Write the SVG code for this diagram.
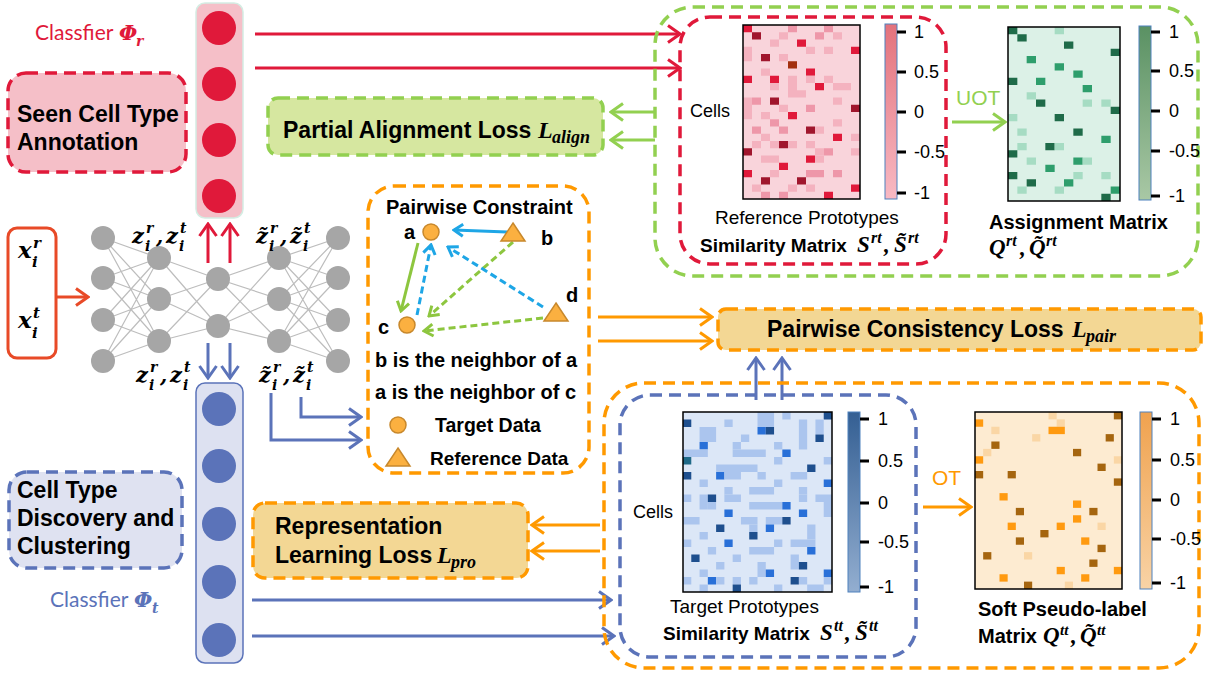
<svg xmlns="http://www.w3.org/2000/svg" width="1206" height="677" viewBox="0 0 1206 677">
<defs>
<style>
.b{font-family:"Liberation Sans",Arial,sans-serif;font-weight:bold;fill:#000}
.r{font-family:"Liberation Sans",Arial,sans-serif;fill:#000}
.m{font-family:"DejaVu Serif","Liberation Serif",serif;font-style:italic;font-weight:bold;fill:#000}
.mn{font-family:"Liberation Serif","DejaVu Serif",serif;font-style:italic;font-weight:bold;fill:#000}
.cl{font-family:Lato,"Open Sans",sans-serif;font-size:21px}
.nn{fill:#A6A6A6}
.ed{stroke:#BDBDBD;stroke-width:1.2;fill:none}
.dR{fill:none;stroke:#E0193A;stroke-width:3.5;stroke-dasharray:12 7}
.dG{fill:none;stroke:#92D050;stroke-width:3.5;stroke-dasharray:12 7}
.dO{fill:none;stroke:#FF9900;stroke-width:3.5;stroke-dasharray:12 7}
.dB{fill:none;stroke:#5B73B9;stroke-width:3.5;stroke-dasharray:12 7}
.aR{fill:none;stroke:#E0193A;stroke-width:3;marker-end:url(#mR)}
.aG{fill:none;stroke:#92D050;stroke-width:3;marker-end:url(#mG)}
.aO{fill:none;stroke:#FF9900;stroke-width:3;marker-end:url(#mO)}
.aB{fill:none;stroke:#5B73B9;stroke-width:3;marker-end:url(#mB)}
.pB{fill:none;stroke:#1EA6E6;stroke-width:3;marker-end:url(#pB)}
.pG{fill:none;stroke:#8DC63F;stroke-width:3;marker-end:url(#pG)}
.tk{stroke:#000;stroke-width:3}
.rl{fill:#F4B2BF}.rm{fill:#EE97A9}.rb{fill:#E0193A}.rd{fill:#A0162D}.rbr{fill:#A3300F}
.gl{fill:#A6DCC3}.gm{fill:#2E9E6C}.gd{fill:#1F6B49}
.bl{fill:#ABC5EE}.bb{fill:#2970D8}.bd{fill:#1E4F8E}.bt{fill:#1F6A88}
.ol{fill:#FAD6A5}.oo{fill:#FF9A10}.obr{fill:#A5650F}
.pt{fill:#FBB040;stroke:#C8882C;stroke-width:1.5}
</style>
<marker id="mR" viewBox="-14 -10 16 20" markerWidth="16" markerHeight="20" refX="0" refY="0" orient="auto" markerUnits="userSpaceOnUse"><path d="M-12,-8.5L0,0L-12,8.5" fill="none" stroke="#E0193A" stroke-width="3"/></marker>
<marker id="mG" viewBox="-14 -10 16 20" markerWidth="16" markerHeight="20" refX="0" refY="0" orient="auto" markerUnits="userSpaceOnUse"><path d="M-12,-8.5L0,0L-12,8.5" fill="none" stroke="#92D050" stroke-width="3"/></marker>
<marker id="mO" viewBox="-14 -10 16 20" markerWidth="16" markerHeight="20" refX="0" refY="0" orient="auto" markerUnits="userSpaceOnUse"><path d="M-12,-8.5L0,0L-12,8.5" fill="none" stroke="#FF9900" stroke-width="3"/></marker>
<marker id="mB" viewBox="-14 -10 16 20" markerWidth="16" markerHeight="20" refX="0" refY="0" orient="auto" markerUnits="userSpaceOnUse"><path d="M-12,-8.5L0,0L-12,8.5" fill="none" stroke="#5B73B9" stroke-width="3"/></marker>
<marker id="mE" viewBox="-14 -10 16 20" markerWidth="16" markerHeight="20" refX="0" refY="0" orient="auto" markerUnits="userSpaceOnUse"><path d="M-12,-8.5L0,0L-12,8.5" fill="none" stroke="#E84A27" stroke-width="3"/></marker>
<marker id="pB" viewBox="-11 -8 13 16" markerWidth="13" markerHeight="16" refX="0" refY="0" orient="auto" markerUnits="userSpaceOnUse"><path d="M-9,-6L0,0L-9,6" fill="none" stroke="#1EA6E6" stroke-width="3"/></marker>
<marker id="pG" viewBox="-11 -8 13 16" markerWidth="13" markerHeight="16" refX="0" refY="0" orient="auto" markerUnits="userSpaceOnUse"><path d="M-9,-6L0,0L-9,6" fill="none" stroke="#8DC63F" stroke-width="3"/></marker>
<linearGradient id="gR" x1="0" y1="0" x2="0" y2="1"><stop offset="0" stop-color="#E3727C"/><stop offset="1" stop-color="#F8B9C3"/></linearGradient>
<linearGradient id="gG" x1="0" y1="0" x2="0" y2="1"><stop offset="0" stop-color="#5A9163"/><stop offset="1" stop-color="#A9C8A5"/></linearGradient>
<linearGradient id="gB" x1="0" y1="0" x2="0" y2="1"><stop offset="0" stop-color="#345F93"/><stop offset="1" stop-color="#93AED0"/></linearGradient>
<linearGradient id="gO" x1="0" y1="0" x2="0" y2="1"><stop offset="0" stop-color="#F0A24E"/><stop offset="1" stop-color="#F8D3A6"/></linearGradient>
</defs>
<rect width="1206" height="677" fill="#fff"/>

<!-- Connectors -->
<g id="connectors">
<path class="aR" d="M255,34H680"/>
<path class="aR" d="M255,68H680"/>
<path class="aG" d="M655,112H611"/>
<path class="aG" d="M655,140H611"/>
<path d="M56,297H88" fill="none" stroke="#E84A27" stroke-width="3" marker-end="url(#mE)"/>
<path class="aR" d="M208,263V224"/>
<path class="aR" d="M230,263V224"/>
<path class="aB" d="M208,343V378"/>
<path class="aB" d="M230,343V378"/>
<path class="aB" d="M271,393V440H361"/>
<path class="aB" d="M301,397V417H361"/>
<path class="aO" d="M598,317H712"/>
<path class="aO" d="M598,341H712"/>
<path class="aB" d="M756,400V358"/>
<path class="aB" d="M782,400V358"/>
<path class="aO" d="M600,525H532"/>
<path class="aO" d="M600,551H532"/>
<path class="aB" d="M252,600H611"/>
<path class="aB" d="M252,636H614"/>
<path class="aG" d="M952,122H1005"/>
<path class="aO" d="M923,507H971"/>
</g>

<!-- Seen cell type box -->
<g id="seen">
<rect x="8" y="73" width="178" height="99" rx="18" fill="#F5BFC8"/>
<rect x="8" y="73" width="178" height="99" rx="18" class="dR"/>
<text class="b" font-size="23" x="17" y="122">Seen Cell Type</text>
<text class="b" font-size="23" x="17" y="150">Annotation</text>
</g>

<g id="classifier-r-label">
<text class="cl" x="35" y="40" fill="#E0193A">Classfier</text>
<text class="m" font-size="21" x="119" y="40" style="fill:#E0193A">Φ</text>
<text class="m" font-size="14" x="136" y="46" style="fill:#E0193A">r</text>
</g>

<g id="classifier-r">
<rect x="196" y="3" width="47" height="215" rx="9" fill="#F5BFC8" stroke="#D4EDE3" stroke-width="1.5"/>
<circle cx="219" cy="28" r="17" fill="#E0193A"/>
<circle cx="219" cy="84" r="17" fill="#E0193A"/>
<circle cx="219" cy="140" r="17" fill="#E0193A"/>
<circle cx="219" cy="196" r="17" fill="#E0193A"/>
</g>

<g id="input">
<rect x="8" y="228" width="48" height="130" rx="9" fill="#fff" stroke="#E84A27" stroke-width="3"/>
<text class="m" font-size="23" x="18" y="258">x</text>
<text class="m" font-size="15" x="33" y="248">r</text>
<text class="m" font-size="15" x="32" y="267">i</text>
<text class="m" font-size="23" x="18" y="328">x</text>
<text class="m" font-size="15" x="33" y="318">t</text>
<text class="m" font-size="15" x="32" y="338">i</text>
</g>

<g id="network">
<path class="ed" d="M103,238L159,258M103,238L159,299M103,238L159,341M103,278L159,258M103,278L159,299M103,278L159,341M103,320L159,258M103,320L159,299M103,320L159,341M103,361L159,258M103,361L159,299M103,361L159,341
M159,258L218,279M159,258L218,326M159,299L218,279M159,299L218,326M159,341L218,279M159,341L218,326
M218,279L279,258M218,279L279,299M218,279L279,341M218,326L279,258M218,326L279,299M218,326L279,341
M279,258L338,238M279,258L338,278M279,258L338,320M279,258L338,361M279,299L338,238M279,299L338,278M279,299L338,320M279,299L338,361M279,341L338,238M279,341L338,278M279,341L338,320M279,341L338,361"/>
<g class="nn">
<circle cx="103" cy="238" r="12"/><circle cx="103" cy="278" r="12"/><circle cx="103" cy="320" r="12"/><circle cx="103" cy="361" r="12"/>
<circle cx="159" cy="258" r="12"/><circle cx="159" cy="299" r="12"/><circle cx="159" cy="341" r="12"/>
<circle cx="218" cy="279" r="12"/><circle cx="218" cy="326" r="12"/>
<circle cx="279" cy="258" r="12"/><circle cx="279" cy="299" r="12"/><circle cx="279" cy="341" r="12"/>
<circle cx="338" cy="238" r="12"/><circle cx="338" cy="278" r="12"/><circle cx="338" cy="320" r="12"/><circle cx="338" cy="361" r="12"/>
</g>
<g font-size="21">
<text class="m" x="132" y="243">z</text><text class="m" font-size="14" x="146" y="233">r</text><text class="m" font-size="14" x="145" y="251">i</text>
<text class="m" x="156" y="243">,</text>
<text class="m" x="166" y="243">z</text><text class="m" font-size="14" x="180" y="233">t</text><text class="m" font-size="14" x="179" y="251">i</text>
<text class="m" x="136" y="382">z</text><text class="m" font-size="14" x="150" y="372">r</text><text class="m" font-size="14" x="149" y="390">i</text>
<text class="m" x="160" y="382">,</text>
<text class="m" x="170" y="382">z</text><text class="m" font-size="14" x="184" y="372">t</text><text class="m" font-size="14" x="183" y="390">i</text>
<text class="m" x="256" y="243">z̃</text><text class="m" font-size="14" x="270" y="233">r</text><text class="m" font-size="14" x="269" y="251">i</text>
<text class="m" x="280" y="243">,</text>
<text class="m" x="290" y="243">z̃</text><text class="m" font-size="14" x="304" y="233">t</text><text class="m" font-size="14" x="303" y="251">i</text>
<text class="m" x="259" y="382">z̃</text><text class="m" font-size="14" x="273" y="372">r</text><text class="m" font-size="14" x="272" y="390">i</text>
<text class="m" x="283" y="382">,</text>
<text class="m" x="293" y="382">z̃</text><text class="m" font-size="14" x="307" y="372">t</text><text class="m" font-size="14" x="306" y="390">i</text>
</g>
</g>

<g id="classifier-t">
<rect x="196" y="383" width="47" height="280" rx="9" fill="#DDE1F1" stroke="#5B73B9" stroke-width="1.5"/>
<circle cx="219" cy="409" r="17" fill="#5B73B9"/>
<circle cx="219" cy="466" r="17" fill="#5B73B9"/>
<circle cx="219" cy="524" r="17" fill="#5B73B9"/>
<circle cx="219" cy="582" r="17" fill="#5B73B9"/>
<circle cx="219" cy="640" r="17" fill="#5B73B9"/>
</g>

<g id="classifier-t-label">
<text class="cl" x="50" y="607" fill="#5B73B9">Classfier</text>
<text class="m" font-size="21" x="134" y="607" style="fill:#5B73B9">Φ</text>
<text class="m" font-size="14" x="152" y="613" style="fill:#5B73B9">t</text>
</g>

<g id="discovery">
<rect x="9" y="472" width="173" height="96" rx="18" fill="#DFE2F1"/>
<rect x="9" y="472" width="173" height="96" rx="18" class="dB"/>
<text class="b" font-size="23" x="17" y="498">Cell Type</text>
<text class="b" font-size="23" x="17" y="526">Discovery and</text>
<text class="b" font-size="23" x="17" y="554">Clustering</text>
</g>

<g id="partial-alignment">
<rect x="268" y="98" width="335" height="57" rx="10" fill="#D6E7A0"/>
<rect x="268" y="98" width="335" height="57" rx="10" class="dG"/>
<text class="b" font-size="23" x="283" y="138">Partial Alignment Loss</text>
<text class="mn" font-size="24" x="538" y="138">L</text>
<text class="mn" font-size="18" x="552" y="143">align</text>
</g>

<g id="representation">
<rect x="253" y="503" width="275" height="75" rx="12" fill="#F3D794"/>
<rect x="253" y="503" width="275" height="75" rx="12" class="dO"/>
<text class="b" font-size="23" x="275" y="534">Representation</text>
<text class="b" font-size="23" x="275" y="563">Learning Loss</text>
<text class="mn" font-size="24" x="437" y="563">L</text>
<text class="mn" font-size="18" x="451" y="568">pro</text>
</g>

<g id="pairwise-consistency">
<rect x="718" y="309" width="483" height="41" rx="8" fill="#F3D794"/>
<rect x="718" y="309" width="483" height="41" rx="8" class="dO"/>
<text class="b" font-size="23" x="767" y="337">Pairwise Consistency Loss</text>
<text class="mn" font-size="24" x="1072" y="337">L</text>
<text class="mn" font-size="18" x="1086" y="342">pair</text>
</g>

<g id="pairwise-constraint">
<rect x="368" y="186" width="221" height="287" rx="26" class="dO"/>
<text class="b" font-size="20" x="386" y="214">Pairwise Constraint</text>
<path class="pB" d="M507,232L454,230"/>
<path class="pG" d="M418,243L401,311"/>
<path class="pB" d="M417,315L431,245" stroke-dasharray="7 4"/>
<path class="pG" d="M513,242L429,316" stroke-dasharray="7 4"/>
<path class="pB" d="M543,307L448,247" stroke-dasharray="7 4"/>
<path class="pG" d="M543,318L424,331" stroke-dasharray="7 4"/>
<circle class="pt" cx="431" cy="232" r="8"/>
<circle class="pt" cx="407" cy="325" r="8"/>
<polygon class="pt" points="513,223 525,241 501,241"/>
<polygon class="pt" points="556,303 568,321 544,321"/>
<text class="b" font-size="20" x="404" y="239">a</text>
<text class="b" font-size="20" x="541" y="245">b</text>
<text class="b" font-size="20" x="566" y="302">d</text>
<text class="b" font-size="20" x="378" y="334">c</text>
<text class="b" font-size="20" x="375" y="367">b is the neighbor of a</text>
<text class="b" font-size="20" x="375" y="399">a is the neighbor of c</text>
<circle class="pt" cx="398" cy="425" r="8"/>
<text class="b" font-size="19.5" x="435" y="432">Target Data</text>
<polygon class="pt" points="398,448 410,466 386,466"/>
<text class="b" font-size="19" x="430" y="465">Reference Data</text>
</g>

<g id="alignment-panel">
<rect x="655" y="7" width="543" height="269" rx="38" class="dG"/>
<text class="r" font-size="21" x="956" y="105" style="fill:#92D050">UOT</text>
</g>

<g id="similarity-rt">
<rect x="680" y="17" width="266" height="247" rx="30" class="dR"/>
<text class="r" font-size="18" x="690" y="117">Cells</text>
<g transform="translate(743,25) scale(9,7.25)">
<rect width="13" height="24" fill="#F9D4DB"/>
<rect x="0" y="0" width="1" height="1" class="rb"/><rect x="5" y="0" width="1" height="1" class="rm"/><rect x="9" y="0" width="1" height="1" class="rm"/>
<rect x="1" y="1" width="1" height="1" class="rd"/><rect x="4" y="1" width="1" height="1" class="rl"/><rect x="8" y="1" width="1" height="1" class="rm"/><rect x="10" y="1" width="1" height="1" class="rl"/>
<rect x="3" y="2" width="1" height="1" class="rl"/><rect x="6" y="2" width="1" height="1" class="rb"/>
<rect x="0" y="3" width="1" height="2" class="rl"/><rect x="7" y="3" width="1" height="1" class="rl"/><rect x="9" y="3" width="1" height="1" class="rl"/><rect x="12" y="3" width="1" height="1" class="rb"/>
<rect x="2" y="4" width="1" height="1" class="rd"/><rect x="4" y="4" width="1" height="1" class="rl"/>
<rect x="5" y="5" width="1" height="1" class="rbr"/>
<rect x="2" y="6" width="1" height="1" class="rl"/><rect x="7" y="6" width="1" height="1" class="rb"/>
<rect x="0" y="7" width="1" height="1" class="rb"/><rect x="3" y="7" width="1" height="1" class="rb"/><rect x="5" y="7" width="1" height="1" class="rl"/><rect x="7" y="7" width="1" height="1" class="rl"/><rect x="9" y="7" width="1" height="1" class="rl"/>
<rect x="3" y="8" width="1" height="1" class="rl"/><rect x="5" y="8" width="1" height="2" class="rl"/><rect x="8" y="8" width="1" height="1" class="rb"/><rect x="10" y="8" width="2" height="1" class="rl"/>
<rect x="6" y="9" width="1" height="1" class="rl"/>
<rect x="0" y="10" width="1" height="3" class="rl"/><rect x="1" y="10" width="1" height="1" class="rm"/><rect x="3" y="10" width="1" height="1" class="rd"/><rect x="10" y="10" width="1" height="1" class="rl"/>
<rect x="4" y="11" width="1" height="1" class="rl"/><rect x="7" y="11" width="1" height="1" class="rm"/><rect x="12" y="11" width="1" height="1" class="rd"/>
<rect x="2" y="12" width="1" height="1" class="rl"/><rect x="5" y="12" width="1" height="1" class="rb"/>
<rect x="3" y="13" width="1" height="1" class="rm"/><rect x="10" y="13" width="1" height="1" class="rl"/>
<rect x="1" y="14" width="1" height="1" class="rm"/><rect x="4" y="14" width="1" height="1" class="rm"/><rect x="7" y="14" width="1" height="1" class="rd"/><rect x="8" y="14" width="1" height="1" class="rl"/>
<rect x="2" y="15" width="1" height="1" class="rl"/><rect x="10" y="15" width="1" height="1" class="rb"/><rect x="12" y="15" width="1" height="1" class="rl"/>
<rect x="1" y="16" width="1" height="1" class="rl"/><rect x="3" y="16" width="1" height="1" class="rl"/><rect x="4" y="16" width="1" height="1" class="rd"/><rect x="5" y="16" width="1" height="1" class="rl"/><rect x="7" y="16" width="1" height="1" class="rl"/>
<rect x="0" y="17" width="1" height="1" class="rd"/><rect x="8" y="17" width="1" height="1" class="rl"/><rect x="9" y="17" width="1" height="1" class="rm"/><rect x="12" y="17" width="1" height="1" class="rl"/>
<rect x="2" y="18" width="2" height="1" class="rl"/><rect x="7" y="18" width="1" height="1" class="rb"/><rect x="8" y="18" width="1" height="1" class="rl"/>
<rect x="4" y="19" width="1" height="1" class="rb"/>
<rect x="0" y="20" width="1" height="1" class="rb"/><rect x="3" y="20" width="1" height="1" class="rl"/><rect x="7" y="20" width="2" height="1" class="rm"/><rect x="10" y="20" width="1" height="1" class="rm"/>
<rect x="2" y="21" width="1" height="1" class="rd"/><rect x="6" y="21" width="1" height="1" class="rd"/>
<rect x="1" y="22" width="1" height="1" class="rl"/><rect x="5" y="22" width="1" height="1" class="rl"/><rect x="7" y="22" width="1" height="1" class="rl"/><rect x="12" y="22" width="1" height="1" class="rb"/>
<rect x="2" y="23" width="1" height="1" class="rm"/><rect x="4" y="23" width="1" height="1" class="rm"/><rect x="9" y="23" width="1" height="1" class="rb"/>
</g>
<rect x="743" y="25" width="117" height="174" fill="none" stroke="#000" stroke-width="1.5"/>
<rect x="885" y="24" width="12" height="175" fill="url(#gR)" stroke="#4F81BD" stroke-width="1"/>
<path class="tk" d="M897,32h9M897,72h9M897,112h9M897,152h9M897,193h9"/>
<g class="r" font-size="18">
<text x="914" y="38">1</text><text x="914" y="78">0.5</text><text x="914" y="118">0</text><text x="914" y="158">-0.5</text><text x="914" y="199">-1</text>
</g>
<text class="r" font-size="19" x="715" y="224">Reference Prototypes</text>
<text class="b" font-size="19" x="700" y="252">Similarity Matrix</text>
<text class="mn" font-size="23" x="857" y="252">S</text>
<text class="mn" font-size="16" x="871" y="243">rt</text>
<text class="mn" font-size="23" x="884" y="252">,</text>
<text class="mn" font-size="23" x="894" y="252">S̃</text>
<text class="mn" font-size="16" x="908" y="243">rt</text>
</g>

<g id="assignment-rt">
<g transform="translate(1008,27) scale(9.333,7.25)">
<rect width="12" height="24" fill="#DCF1E7"/>
<rect x="0" y="0" width="1" height="1" class="gd"/><rect x="5" y="0" width="1" height="1" class="gl"/>
<rect x="1" y="1" width="1" height="1" class="gd"/>
<rect x="6" y="2" width="1" height="1" class="gd"/>
<rect x="11" y="3" width="1" height="1" class="gd"/>
<rect x="2" y="4" width="1" height="1" class="gm"/>
<rect x="5" y="5" width="1" height="1" class="gm"/>
<rect x="7" y="6" width="1" height="1" class="gm"/>
<rect x="0" y="7" width="1" height="1" class="gd"/><rect x="3" y="7" width="1" height="1" class="gm"/>
<rect x="8" y="8" width="1" height="1" class="gm"/>
<rect x="2" y="9" width="1" height="1" class="gl"/>
<rect x="3" y="10" width="1" height="1" class="gd"/><rect x="8" y="10" width="1" height="1" class="gl"/><rect x="10" y="10" width="1" height="1" class="gl"/>
<rect x="11" y="11" width="1" height="1" class="gd"/>
<rect x="0" y="12" width="1" height="1" class="gl"/><rect x="5" y="12" width="1" height="1" class="gd"/>
<rect x="1" y="14" width="1" height="1" class="gl"/><rect x="7" y="14" width="1" height="1" class="gd"/>
<rect x="10" y="15" width="1" height="1" class="gm"/>
<rect x="1" y="16" width="1" height="1" class="gl"/><rect x="4" y="16" width="1" height="1" class="gd"/><rect x="5" y="16" width="1" height="1" class="gl"/>
<rect x="0" y="17" width="1" height="1" class="gd"/>
<rect x="2" y="18" width="1" height="1" class="gl"/><rect x="7" y="18" width="1" height="1" class="gm"/><rect x="8" y="18" width="1" height="1" class="gl"/>
<rect x="4" y="19" width="1" height="1" class="gm"/>
<rect x="0" y="20" width="1" height="1" class="gd"/><rect x="7" y="20" width="1" height="1" class="gl"/><rect x="10" y="20" width="1" height="1" class="gl"/>
<rect x="2" y="21" width="1" height="1" class="gd"/><rect x="6" y="21" width="1" height="1" class="gm"/>
<rect x="1" y="22" width="1" height="1" class="gl"/><rect x="5" y="22" width="1" height="1" class="gl"/><rect x="11" y="22" width="1" height="1" class="gm"/>
<rect x="10" y="23" width="1" height="1" class="gd"/>
</g>
<rect x="1008" y="27" width="112" height="174" fill="none" stroke="#000" stroke-width="1.5"/>
<rect x="1139" y="26" width="12" height="174" fill="url(#gG)" stroke="#4F81BD" stroke-width="1"/>
<path class="tk" d="M1151,32h9M1151,71h9M1151,111h9M1151,151h9M1151,196h9"/>
<g class="r" font-size="18">
<text x="1169" y="38">1</text><text x="1169" y="77">0.5</text><text x="1169" y="117">0</text><text x="1169" y="157">-0.5</text><text x="1169" y="202">-1</text>
</g>
<text class="b" font-size="20" x="989" y="229">Assignment Matrix</text>
<text class="mn" font-size="23" x="989" y="255">Q</text>
<text class="mn" font-size="16" x="1006" y="246">rt</text>
<text class="mn" font-size="23" x="1020" y="255">,</text>
<text class="mn" font-size="23" x="1029" y="255">Q̃</text>
<text class="mn" font-size="16" x="1046" y="246">rt</text>
</g>

<g id="pseudo-panel">
<rect x="604" y="383" width="595" height="285" rx="40" class="dO"/>
<text class="r" font-size="21" x="932" y="485" style="fill:#FF9900">OT</text>
</g>

<g id="similarity-tt">
<rect x="620" y="395" width="296" height="262" rx="30" class="dB"/>
<text class="r" font-size="18" x="633" y="518">Cells</text>
<g transform="translate(683,412) scale(8.278,7.5)">
<rect width="18" height="24" fill="#DCE7F7"/>
<rect x="9" y="0" width="2" height="2" class="bl"/><rect x="12" y="0" width="1" height="1" class="bl"/><rect x="17" y="0" width="1" height="1" class="bd"/>
<rect x="0" y="1" width="1" height="1" class="bd"/><rect x="5" y="1" width="1" height="1" class="bl"/><rect x="14" y="1" width="1" height="3" class="bl"/><rect x="16" y="1" width="1" height="2" class="bl"/>
<rect x="2" y="2" width="2" height="2" class="bl"/><rect x="9" y="2" width="1" height="1" class="bb"/><rect x="10" y="2" width="1" height="1" class="bd"/>
<rect x="7" y="3" width="1" height="1" class="bl"/><rect x="16" y="3" width="1" height="1" class="bd"/>
<rect x="2" y="4" width="1" height="1" class="bb"/><rect x="6" y="4" width="1" height="1" class="bl"/><rect x="11" y="4" width="1" height="1" class="bl"/><rect x="14" y="4" width="1" height="1" class="bl"/>
<rect x="0" y="5" width="3" height="1" class="bl"/><rect x="6" y="5" width="4" height="1" class="bl"/><rect x="12" y="5" width="1" height="1" class="bb"/>
<rect x="0" y="6" width="1" height="1" class="bt"/><rect x="11" y="6" width="1" height="1" class="bl"/><rect x="17" y="6" width="1" height="1" class="bl"/>
<rect x="4" y="7" width="5" height="1" class="bl"/><rect x="15" y="7" width="1" height="1" class="bd"/>
<rect x="0" y="8" width="1" height="1" class="bd"/><rect x="4" y="8" width="1" height="1" class="bb"/><rect x="5" y="8" width="2" height="1" class="bl"/><rect x="9" y="8" width="1" height="1" class="bl"/><rect x="13" y="8" width="2" height="1" class="bl"/>
<rect x="2" y="9" width="1" height="1" class="bl"/><rect x="11" y="9" width="1" height="1" class="bl"/><rect x="17" y="9" width="1" height="1" class="bb"/>
<rect x="5" y="10" width="1" height="1" class="bl"/><rect x="8" y="10" width="3" height="1" class="bl"/><rect x="14" y="10" width="1" height="1" class="bl"/>
<rect x="0" y="11" width="1" height="1" class="bl"/><rect x="2" y="11" width="1" height="2" class="bl"/><rect x="3" y="11" width="1" height="1" class="bd"/><rect x="5" y="11" width="2" height="1" class="bl"/><rect x="14" y="11" width="1" height="1" class="bl"/><rect x="16" y="11" width="2" height="1" class="bl"/>
<rect x="3" y="12" width="1" height="1" class="bl"/><rect x="8" y="12" width="4" height="1" class="bl"/><rect x="12" y="12" width="1" height="1" class="bb"/><rect x="17" y="12" width="1" height="2" class="bl"/>
<rect x="5" y="13" width="1" height="1" class="bb"/><rect x="14" y="13" width="1" height="1" class="bb"/>
<rect x="0" y="14" width="2" height="1" class="bl"/><rect x="7" y="14" width="2" height="1" class="bl"/><rect x="10" y="14" width="2" height="1" class="bl"/><rect x="12" y="14" width="1" height="1" class="bd"/>
<rect x="4" y="15" width="1" height="1" class="bd"/><rect x="8" y="15" width="1" height="1" class="bl"/><rect x="10" y="15" width="1" height="1" class="bb"/><rect x="15" y="15" width="1" height="2" class="bl"/>
<rect x="2" y="16" width="1" height="1" class="bl"/><rect x="8" y="16" width="1" height="1" class="bd"/>
<rect x="0" y="17" width="1" height="1" class="bl"/><rect x="5" y="17" width="1" height="1" class="bb"/><rect x="11" y="17" width="1" height="1" class="bl"/><rect x="13" y="17" width="3" height="1" class="bl"/>
<rect x="3" y="18" width="1" height="1" class="bl"/><rect x="8" y="18" width="3" height="1" class="bl"/><rect x="15" y="18" width="1" height="1" class="bb"/>
<rect x="1" y="19" width="1" height="1" class="bd"/><rect x="6" y="19" width="1" height="1" class="bl"/><rect x="13" y="19" width="1" height="2" class="bl"/>
<rect x="4" y="20" width="1" height="1" class="bl"/><rect x="9" y="20" width="1" height="2" class="bl"/><rect x="14" y="20" width="1" height="1" class="bd"/>
<rect x="2" y="21" width="1" height="1" class="bl"/><rect x="10" y="21" width="1" height="1" class="bb"/><rect x="17" y="21" width="1" height="1" class="bb"/>
<rect x="0" y="22" width="1" height="1" class="bl"/><rect x="3" y="22" width="1" height="1" class="bb"/><rect x="4" y="22" width="1" height="1" class="bl"/><rect x="6" y="22" width="1" height="1" class="bl"/><rect x="8" y="22" width="1" height="1" class="bl"/><rect x="13" y="22" width="1" height="1" class="bd"/><rect x="14" y="22" width="1" height="1" class="bl"/><rect x="17" y="22" width="1" height="1" class="bl"/>
<rect x="2" y="23" width="1" height="1" class="bl"/><rect x="6" y="23" width="1" height="1" class="bd"/><rect x="11" y="23" width="1" height="1" class="bl"/><rect x="15" y="23" width="2" height="1" class="bl"/>
</g>
<rect x="683" y="412" width="149" height="180" fill="none" stroke="#000" stroke-width="1.5"/>
<rect x="848" y="412" width="12" height="180" fill="url(#gB)" stroke="#4F81BD" stroke-width="1"/>
<path class="tk" d="M860,419h9M860,461h9M860,503h9M860,542h9M860,587h9"/>
<g class="r" font-size="18">
<text x="878" y="425">1</text><text x="878" y="467">0.5</text><text x="878" y="509">0</text><text x="878" y="548">-0.5</text><text x="878" y="593">-1</text>
</g>
<text class="r" font-size="19" x="670" y="613">Target Prototypes</text>
<text class="b" font-size="19" x="663" y="640">Similarity Matrix</text>
<text class="mn" font-size="23" x="820" y="640">S</text>
<text class="mn" font-size="16" x="834" y="631">tt</text>
<text class="mn" font-size="23" x="845" y="640">,</text>
<text class="mn" font-size="23" x="855" y="640">S̃</text>
<text class="mn" font-size="16" x="869" y="631">tt</text>
</g>

<g id="pseudo-label">
<g transform="translate(975,412) scale(8.167,7.375)">
<rect width="18" height="24" fill="#FDEBD1"/>
<rect x="9" y="0" width="1" height="1" class="ol"/><rect x="17" y="0" width="1" height="1" class="obr"/>
<rect x="0" y="1" width="1" height="1" class="oo"/><rect x="10" y="1" width="1" height="1" class="ol"/>
<rect x="2" y="2" width="1" height="1" class="ol"/><rect x="9" y="2" width="2" height="1" class="oo"/>
<rect x="7" y="3" width="1" height="1" class="ol"/><rect x="16" y="3" width="1" height="1" class="obr"/>
<rect x="2" y="4" width="1" height="1" class="obr"/>
<rect x="1" y="5" width="1" height="1" class="ol"/><rect x="12" y="5" width="1" height="1" class="obr"/>
<rect x="0" y="6" width="1" height="1" class="oo"/><rect x="17" y="6" width="1" height="1" class="ol"/>
<rect x="15" y="7" width="1" height="1" class="obr"/>
<rect x="0" y="8" width="1" height="1" class="obr"/><rect x="4" y="8" width="1" height="1" class="obr"/>
<rect x="17" y="9" width="1" height="1" class="obr"/>
<rect x="3" y="11" width="1" height="1" class="oo"/>
<rect x="12" y="12" width="1" height="1" class="oo"/>
<rect x="5" y="13" width="1" height="1" class="obr"/><rect x="14" y="13" width="1" height="1" class="obr"/>
<rect x="12" y="14" width="1" height="1" class="oo"/>
<rect x="4" y="15" width="1" height="1" class="oo"/><rect x="10" y="15" width="1" height="1" class="oo"/><rect x="15" y="15" width="1" height="1" class="ol"/>
<rect x="8" y="16" width="1" height="1" class="obr"/>
<rect x="5" y="17" width="1" height="1" class="obr"/><rect x="13" y="17" width="1" height="1" class="oo"/>
<rect x="15" y="18" width="1" height="1" class="obr"/>
<rect x="1" y="19" width="1" height="1" class="obr"/><rect x="6" y="19" width="1" height="1" class="ol"/>
<rect x="14" y="20" width="1" height="1" class="obr"/>
<rect x="10" y="21" width="1" height="1" class="oo"/><rect x="17" y="21" width="1" height="1" class="oo"/>
<rect x="3" y="22" width="1" height="1" class="oo"/><rect x="13" y="22" width="1" height="1" class="oo"/>
<rect x="6" y="23" width="1" height="1" class="obr"/><rect x="11" y="23" width="1" height="1" class="ol"/>
</g>
<rect x="975" y="412" width="147" height="177" fill="none" stroke="#000" stroke-width="1.5"/>
<rect x="1140" y="412" width="12" height="177" fill="url(#gO)" stroke="#4F81BD" stroke-width="1"/>
<path class="tk" d="M1152,419h9M1152,460h9M1152,500h9M1152,539h9M1152,583h9"/>
<g class="r" font-size="18">
<text x="1170" y="425">1</text><text x="1170" y="466">0.5</text><text x="1170" y="506">0</text><text x="1170" y="545">-0.5</text><text x="1170" y="589">-1</text>
</g>
<text class="b" font-size="20" x="978" y="616">Soft Pseudo-label</text>
<text class="b" font-size="20" x="978" y="643">Matrix</text>
<text class="mn" font-size="23" x="1043" y="643">Q</text>
<text class="mn" font-size="15" x="1060" y="635">tt</text>
<text class="mn" font-size="23" x="1071" y="643">,</text>
<text class="mn" font-size="23" x="1080" y="643">Q̃</text>
<text class="mn" font-size="15" x="1097" y="635">tt</text>
</g>
</svg>
